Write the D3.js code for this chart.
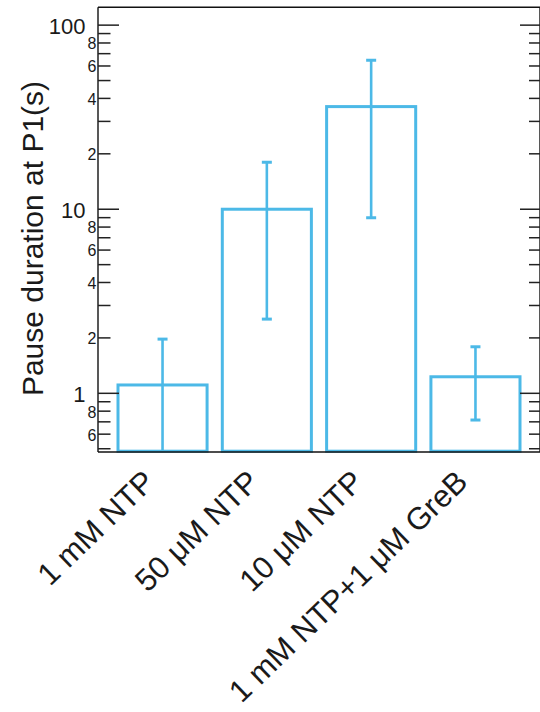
<!DOCTYPE html>
<html>
<head>
<meta charset="utf-8">
<script src="https://cdn.jsdelivr.net/npm/d3@7"></script>
<style>
  html, body { margin: 0; padding: 0; background: #fff; }
  svg { display: block; }
  text { font-family: "Liberation Sans", Arial, Helvetica, sans-serif; fill: #1a1a1a; }
</style>
</head>
<body>
<svg id="chart" width="540" height="712"></svg>
<script>
// Pause duration at the P1 site under four reaction conditions (mean with error range)
const conditions = ["1 mM NTP", "50 μM NTP", "10 μM NTP", "1 mM NTP+1 μM GreB"];
const pauseMean  = [1.11, 10.0, 36.1, 1.23];
const errUpper   = [1.97, 18.0, 64.5, 1.79];
const errLower   = [0.25, 2.53, 9.0, 0.716];

// Log-axis ticks: labelled decades, labelled minor steps, and plain minor steps
const majorTicks   = [1, 10, 100];
const labeledMinor = [0.6, 0.8, 2, 4, 6, 8, 20, 40, 60, 80];
const minorTicks   = [0.5, 0.6, 0.7, 0.8, 0.9, 2, 3, 4, 5, 6, 7, 8, 9,
                      20, 30, 40, 50, 60, 70, 80, 90];
const yDomain = [0.48, 125];

const blue = "#4cb9e7";
const svg = d3.select("#chart");

const pLeft = 98, pRight = 540, pTop = 7.3, pBottom = 452;

const x = d3.scaleBand()
  .domain(conditions)
  .range([118, 520])
  .paddingInner(0.146)
  .paddingOuter(0);

const y = d3.scaleLog()
  .domain(yDomain)
  .range([pBottom, pTop]);

// clip for the plotting region
svg.append("defs").append("clipPath").attr("id", "plot")
  .append("rect")
  .attr("x", pLeft).attr("y", pTop)
  .attr("width", pRight - pLeft).attr("height", pBottom - pTop);

const rows = conditions.map((c, i) => ({ c, m: pauseMean[i], hi: errUpper[i], lo: errLower[i] }));

// bars (outlined)
svg.append("g").selectAll("rect")
  .data(rows)
  .join("rect")
  .attr("x", d => x(d.c))
  .attr("y", d => y(d.m))
  .attr("width", x.bandwidth())
  .attr("height", d => y(yDomain[0]) - 0.8 - y(d.m))
  .attr("fill", "none")
  .attr("stroke", blue)
  .attr("stroke-width", 3);

// error bars
const eb = svg.append("g").attr("clip-path", "url(#plot)")
  .selectAll("g")
  .data(rows)
  .join("g")
  .attr("stroke", blue);

const cx = d => x(d.c) + x.bandwidth() / 2;
const capHalf = 5;

eb.append("line")
  .attr("x1", cx).attr("x2", cx)
  .attr("y1", d => y(d.hi))
  .attr("y2", d => y(d.lo))
  .attr("stroke-width", 2.6);

eb.append("line")
  .attr("x1", d => cx(d) - capHalf).attr("x2", d => cx(d) + capHalf)
  .attr("y1", d => y(d.hi)).attr("y2", d => y(d.hi))
  .attr("stroke-width", 3);

eb.filter(d => y(d.lo) < pBottom).append("line")
  .attr("x1", d => cx(d) - capHalf).attr("x2", d => cx(d) + capHalf)
  .attr("y1", d => y(d.lo)).attr("y2", d => y(d.lo))
  .attr("stroke-width", 3);

// frame
const frame = svg.append("g").attr("stroke", "#111").attr("stroke-width", 1.4);
frame.append("line").attr("x1", pLeft).attr("x2", pRight + 1).attr("y1", pTop).attr("y2", pTop);
frame.append("line").attr("x1", pLeft).attr("x2", pRight + 1).attr("y1", pBottom).attr("y2", pBottom);
frame.append("line").attr("x1", pLeft).attr("x2", pLeft).attr("y1", pTop).attr("y2", pBottom);
frame.append("line").attr("x1", pRight).attr("x2", pRight).attr("y1", pTop).attr("y2", pBottom);

// inward ticks on both sides
const ticks = svg.append("g").attr("stroke", "#222").attr("stroke-width", 1.5);
ticks.selectAll(".maj-l").data(majorTicks).join("line")
  .attr("x1", pLeft).attr("x2", pLeft + 21)
  .attr("y1", d => y(d)).attr("y2", d => y(d));
ticks.selectAll(".min-l").data(minorTicks).join("line")
  .attr("x1", pLeft).attr("x2", pLeft + 12.5)
  .attr("y1", d => y(d)).attr("y2", d => y(d));
ticks.selectAll(".maj-r").data(majorTicks).join("line")
  .attr("x1", pRight).attr("x2", pRight - 20)
  .attr("y1", d => y(d)).attr("y2", d => y(d));
ticks.selectAll(".min-r").data(minorTicks).join("line")
  .attr("x1", pRight).attr("x2", pRight - 11)
  .attr("y1", d => y(d)).attr("y2", d => y(d));

// tick labels
const fmtMinor = v => String(v < 1 ? Math.round(v * 10) : v < 10 ? v : v / 10);
svg.append("g").selectAll("text").data(majorTicks).join("text")
  .attr("x", 85.5).attr("y", d => y(d))
  .attr("dy", "0.38em")
  .attr("text-anchor", "end")
  .attr("font-size", 22)
  .text(d => d);
svg.append("g").selectAll("text").data(labeledMinor).join("text")
  .attr("x", 96.5).attr("y", d => y(d))
  .attr("dy", "0.4em")
  .attr("text-anchor", "end")
  .attr("font-size", 16)
  .text(fmtMinor);

// y title
svg.append("text")
  .attr("transform", `translate(43,238.5) rotate(-90)`)
  .attr("text-anchor", "middle")
  .attr("font-size", 30)
  .text("Pause duration at P1(s)");

// category labels
svg.append("g").selectAll("text").data(conditions).join("text")
  .attr("transform", d => `translate(${x(d) + x.bandwidth() / 2 - 6},${pBottom + 32}) rotate(-44)`)
  .attr("text-anchor", "end")
  .attr("font-size", 31)
  .text(d => d);
</script>
</body>
</html>
